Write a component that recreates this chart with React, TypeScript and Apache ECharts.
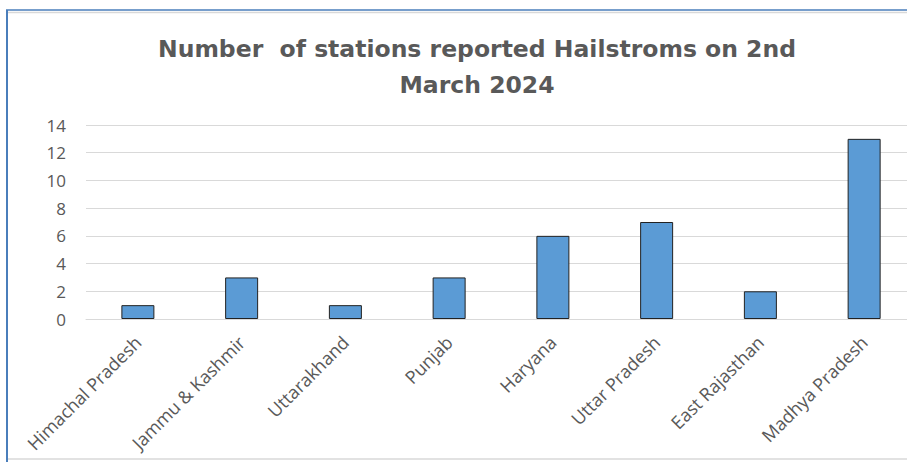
import React, { useEffect, useRef } from "react";
import * as echarts from "echarts";

const categories = [
  "Himachal Pradesh",
  "Jammu & Kashmir",
  "Uttarakhand",
  "Punjab",
  "Haryana",
  "Uttar Pradesh",
  "East Rajasthan",
  "Madhya Pradesh",
];
const stations = [1, 3, 1, 3, 6, 7, 2, 13];
const titleText = "Number  of stations reported Hailstroms on 2nd\nMarch 2024";

export default function App() {
  const ref = useRef<HTMLDivElement>(null);
  useEffect(() => {
    if (!ref.current) return;
    const chart = echarts.init(ref.current, undefined, { renderer: "svg" });
    chart.setOption({
      animation: false,
      backgroundColor: "#ffffff",
      title: {
        text: titleText,
        left: 472,
        textAlign: "center",
        top: 26,
        textStyle: {
          fontFamily: "DejaVu Sans",
          fontWeight: "bold",
          fontSize: 23.5,
          color: "#595959",
          lineHeight: 36,
        },
      },
      graphic: [
        { type: "line", shape: { x1: 7, y1: 10, x2: 7, y2: 462 }, style: { stroke: "#4a7ebb", lineWidth: 2 } },
        { type: "line", shape: { x1: 6, y1: 10, x2: 907, y2: 10 }, style: { stroke: "#4a7ebb", lineWidth: 1.5 } },
        { type: "line", shape: { x1: 8, y1: 12.5, x2: 907, y2: 12.5 }, style: { stroke: "#d9d9d9", lineWidth: 1.5 } },
        { type: "line", shape: { x1: 8, y1: 459, x2: 907, y2: 459 }, style: { stroke: "#d9d9d9", lineWidth: 1.5 } },
      ],
      grid: { left: 86, top: 125, width: 830, height: 194, containLabel: false, outerBoundsMode: "none" },
      xAxis: {
        type: "category",
        data: categories,
        axisLine: { show: true, lineStyle: { color: "#d9d9d9" } },
        axisTick: { show: false },
        axisLabel: {
          interval: 0,
          rotate: 45,
          margin: 20,
          color: "#595959",
          fontFamily: "Open Sans",
          fontSize: 18,
        },
      },
      yAxis: {
        type: "value",
        min: 0,
        max: 14,
        interval: 2,
        axisLine: { show: false },
        axisTick: { show: false },
        splitLine: { lineStyle: { color: "#d9d9d9", width: 1 } },
        axisLabel: {
          margin: 20,
          color: "#595959",
          fontFamily: "Open Sans",
          fontSize: 17,
        },
      },
      series: [
        {
          type: "bar",
          data: stations,
          barWidth: 33,
          itemStyle: { color: "#5b9bd5", borderColor: "#222222", borderWidth: 1 },
        },
      ],
    });
    return () => chart.dispose();
  }, []);
  return <div ref={ref} style={{ width: 907, height: 462, position: "absolute", left: 0, top: 0 }} />;
}
